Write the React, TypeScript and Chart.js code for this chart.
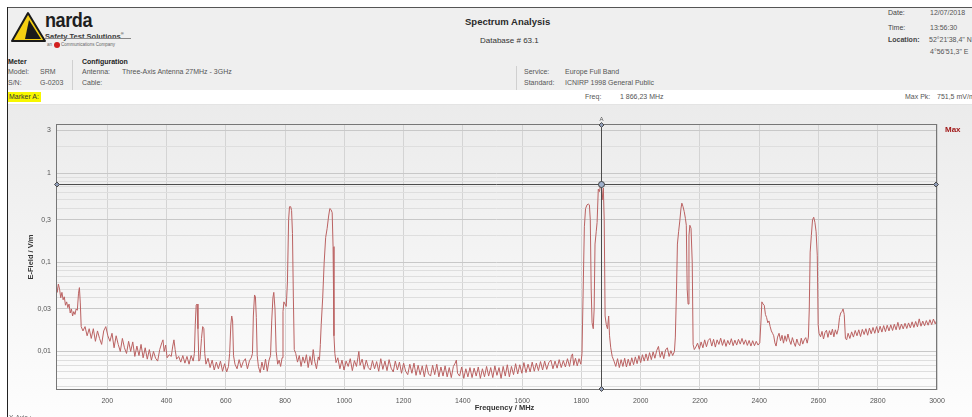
import React, { useEffect, useRef } from "react";
import { Chart, registerables } from "chart.js";
Chart.register(...registerables);

const FONT = "'Liberation Sans', Arial, sans-serif";

// Frequency axis (MHz)
const frequencies = [
  27, 31, 35, 39, 43, 47, 51, 55, 59, 63,
  67, 71, 75, 79, 83, 87, 91, 95, 99, 103,
  106, 109, 112, 118, 125, 132, 139, 146, 153, 160,
  167, 174, 181, 188, 195, 202, 209, 216, 223, 230,
  237, 244, 251, 258, 265, 272, 279, 286, 293, 300,
  307, 314, 321, 328, 335, 342, 349, 356, 363, 370,
  377, 384, 388, 392, 397, 402, 409, 416, 421, 425,
  429, 434, 441, 448, 455, 462, 469, 476, 483, 490,
  494, 497, 500, 503, 506, 509, 513, 518, 522, 526,
  529, 533, 540, 547, 554, 561, 568, 575, 582, 589,
  596, 603, 609, 613, 617, 620, 623, 626, 631, 638,
  645, 652, 659, 666, 673, 680, 686, 690, 693, 697,
  700, 703, 706, 710, 716, 722, 728, 734, 740, 746,
  751, 755, 759, 762, 766, 770, 775, 780, 785, 790,
  793, 796, 800, 804, 808, 812, 815, 819, 822, 825,
  828, 831, 836, 842, 848, 854, 860, 866, 872, 878,
  884, 890, 895, 900, 906, 912, 916, 919, 922, 927,
  932, 937, 942, 947, 951, 955, 959, 962, 965, 968,
  972, 978, 985, 992, 999, 1006, 1013, 1020, 1027, 1034,
  1041, 1046, 1049, 1053, 1060, 1067, 1074, 1081, 1088, 1095,
  1102, 1109, 1116, 1123, 1130, 1137, 1144, 1151, 1158, 1165,
  1172, 1179, 1186, 1193, 1200, 1207, 1214, 1221, 1228, 1235,
  1242, 1249, 1256, 1263, 1270, 1277, 1284, 1291, 1298, 1305,
  1312, 1319, 1326, 1333, 1340, 1347, 1354, 1361, 1368, 1374,
  1378, 1382, 1389, 1396, 1403, 1410, 1417, 1424, 1431, 1438,
  1445, 1452, 1459, 1466, 1473, 1480, 1487, 1494, 1501, 1508,
  1515, 1522, 1529, 1536, 1543, 1550, 1557, 1564, 1571, 1578,
  1585, 1592, 1599, 1606, 1613, 1620, 1627, 1634, 1641, 1648,
  1655, 1662, 1669, 1676, 1683, 1690, 1697, 1704, 1711, 1718,
  1725, 1732, 1739, 1746, 1753, 1760, 1766, 1770, 1774, 1780,
  1786, 1792, 1798, 1802, 1806, 1810, 1814, 1819, 1823, 1827,
  1830, 1833, 1836, 1840, 1843, 1846, 1850, 1853, 1857, 1861,
  1864, 1867, 1870, 1874, 1877, 1880, 1884, 1888, 1892, 1895,
  1899, 1904, 1910, 1916, 1922, 1928, 1934, 1940, 1946, 1952,
  1958, 1964, 1970, 1976, 1982, 1988, 1994, 2000, 2006, 2012,
  2018, 2024, 2030, 2036, 2042, 2048, 2054, 2060, 2066, 2072,
  2078, 2084, 2090, 2096, 2102, 2108, 2114, 2117, 2121, 2124,
  2128, 2132, 2136, 2139, 2143, 2147, 2151, 2154, 2157, 2160,
  2163, 2166, 2170, 2174, 2177, 2181, 2186, 2192, 2198, 2204,
  2210, 2216, 2222, 2228, 2234, 2240, 2246, 2252, 2258, 2264,
  2270, 2276, 2282, 2288, 2294, 2300, 2306, 2312, 2318, 2324,
  2330, 2336, 2342, 2348, 2354, 2360, 2366, 2372, 2378, 2384,
  2390, 2396, 2402, 2406, 2409, 2413, 2417, 2421, 2425, 2429,
  2433, 2437, 2441, 2445, 2449, 2453, 2457, 2462, 2467, 2472,
  2477, 2482, 2487, 2492, 2497, 2502, 2507, 2512, 2517, 2522,
  2527, 2532, 2537, 2542, 2547, 2552, 2557, 2562, 2566, 2569,
  2572, 2576, 2580, 2584, 2588, 2592, 2596, 2599, 2602, 2607,
  2612, 2617, 2622, 2627, 2632, 2637, 2642, 2647, 2652, 2657,
  2662, 2667, 2671, 2675, 2679, 2683, 2687, 2691, 2695, 2700,
  2706, 2712, 2718, 2724, 2730, 2736, 2742, 2748, 2754, 2760,
  2766, 2772, 2778, 2784, 2790, 2796, 2802, 2808, 2814, 2820,
  2826, 2832, 2838, 2844, 2850, 2856, 2862, 2868, 2874, 2880,
  2886, 2892, 2898, 2904, 2910, 2916, 2922, 2928, 2934, 2940,
  2946, 2952, 2958, 2964, 2970, 2976, 2982, 2988, 2994, 3000,
];

// Max-hold E-field (V/m)
const eField = [
  0.060, 0.046, 0.057, 0.050, 0.040, 0.046, 0.038, 0.041, 0.033, 0.036,
  0.031, 0.034, 0.027, 0.030, 0.025, 0.028, 0.026, 0.030, 0.029, 0.045,
  0.052, 0.035, 0.019, 0.017, 0.019, 0.015, 0.018, 0.014, 0.018, 0.013,
  0.017, 0.014, 0.012, 0.017, 0.019, 0.015, 0.013, 0.016, 0.011, 0.015,
  0.012, 0.010, 0.014, 0.011, 0.0095, 0.013, 0.010, 0.0128, 0.0088, 0.0115,
  0.0090, 0.0120, 0.0085, 0.0110, 0.0082, 0.0105, 0.0080, 0.0100, 0.0084, 0.0078,
  0.0105, 0.0125, 0.0135, 0.0100, 0.0118, 0.0085, 0.0092, 0.0088, 0.0115, 0.0135,
  0.0105, 0.0082, 0.0088, 0.0076, 0.0090, 0.0074, 0.0088, 0.0072, 0.0090, 0.0078,
  0.0095, 0.020, 0.033, 0.034, 0.018, 0.0078, 0.0082, 0.014, 0.019, 0.018,
  0.0095, 0.0072, 0.0084, 0.0066, 0.0080, 0.0062, 0.0076, 0.0064, 0.0078, 0.0060,
  0.0073, 0.0059, 0.0068, 0.0095, 0.020, 0.025, 0.022, 0.0090, 0.0072, 0.0064,
  0.0081, 0.0066, 0.0077, 0.0083, 0.0064, 0.0079, 0.0085, 0.0095, 0.025, 0.043,
  0.041, 0.024, 0.0090, 0.0068, 0.0058, 0.0076, 0.0062, 0.0082, 0.0060, 0.0080,
  0.0090, 0.022, 0.040, 0.046, 0.030, 0.010, 0.0072, 0.0080, 0.0068, 0.0085,
  0.028, 0.036, 0.034, 0.032, 0.060, 0.30, 0.42, 0.42, 0.38, 0.21,
  0.040, 0.0105, 0.0095, 0.0076, 0.0090, 0.0068, 0.0087, 0.0074, 0.0092, 0.0066,
  0.0088, 0.0071, 0.0105, 0.0078, 0.0064, 0.0087, 0.0080, 0.012, 0.020, 0.040,
  0.10, 0.19, 0.24, 0.33, 0.40, 0.39, 0.36, 0.15, 0.015, 0.0095,
  0.0075, 0.0085, 0.0064, 0.0080, 0.0062, 0.0078, 0.0068, 0.0083, 0.0061, 0.0079,
  0.0068, 0.0086, 0.0100, 0.0070, 0.0082, 0.0063, 0.0080, 0.0066, 0.0062, 0.0079,
  0.0064, 0.0077, 0.0060, 0.0083, 0.0063, 0.0078, 0.0061, 0.0081, 0.0065, 0.0059,
  0.0078, 0.0062, 0.0076, 0.0057, 0.0074, 0.0060, 0.0055, 0.0072, 0.0057, 0.0074,
  0.0054, 0.0070, 0.0055, 0.0069, 0.0052, 0.0071, 0.0056, 0.0053, 0.0070, 0.0055,
  0.0072, 0.0052, 0.0067, 0.0053, 0.0069, 0.0052, 0.0066, 0.0051, 0.0068, 0.0074,
  0.0080, 0.0057, 0.0053, 0.0067, 0.0050, 0.0064, 0.0052, 0.0066, 0.0051, 0.0065,
  0.0053, 0.0067, 0.0050, 0.0064, 0.0052, 0.0068, 0.0053, 0.0066, 0.0051, 0.0069,
  0.0054, 0.0066, 0.0050, 0.0068, 0.0053, 0.0071, 0.0052, 0.0068, 0.0055, 0.0073,
  0.0056, 0.0071, 0.0057, 0.0075, 0.0058, 0.0072, 0.0059, 0.0076, 0.0060, 0.0074,
  0.0061, 0.0077, 0.0062, 0.0078, 0.0063, 0.0075, 0.0080, 0.0064, 0.0078, 0.0065,
  0.0081, 0.0066, 0.0079, 0.0067, 0.0083, 0.0068, 0.0088, 0.0094, 0.0070, 0.0084,
  0.0069, 0.0083, 0.0072, 0.0095, 0.05, 0.25, 0.40, 0.44, 0.45, 0.44,
  0.30, 0.05, 0.021, 0.018, 0.030, 0.16, 0.22, 0.28, 0.66, 0.62,
  0.72, 0.75, 0.50, 0.68, 0.30, 0.025, 0.020, 0.018, 0.025, 0.015,
  0.011, 0.0088, 0.0078, 0.0068, 0.0083, 0.0066, 0.0081, 0.0068, 0.0084, 0.0067,
  0.0082, 0.0069, 0.0085, 0.0071, 0.0087, 0.0073, 0.0090, 0.0075, 0.0092, 0.0078,
  0.0094, 0.0079, 0.0097, 0.0081, 0.0099, 0.0084, 0.0102, 0.0114, 0.0086, 0.0100,
  0.0083, 0.0104, 0.0110, 0.0088, 0.0102, 0.0090, 0.0100, 0.0145, 0.05, 0.16,
  0.22, 0.29, 0.40, 0.46, 0.42, 0.37, 0.31, 0.26, 0.05, 0.034,
  0.20, 0.26, 0.24, 0.10, 0.012, 0.0105, 0.0112, 0.0124, 0.0106, 0.0128,
  0.0110, 0.0135, 0.0113, 0.0133, 0.0140, 0.0115, 0.0137, 0.0112, 0.0135, 0.0120,
  0.0141, 0.0117, 0.0136, 0.0114, 0.0133, 0.0119, 0.0139, 0.0116, 0.0134, 0.0118,
  0.0137, 0.0121, 0.0140, 0.0120, 0.0135, 0.0117, 0.0133, 0.0115, 0.0132, 0.0116,
  0.0130, 0.0118, 0.0125, 0.022, 0.036, 0.034, 0.033, 0.026, 0.024, 0.021,
  0.022, 0.019, 0.017, 0.016, 0.015, 0.0125, 0.0115, 0.0145, 0.016, 0.0132,
  0.0152, 0.0124, 0.0150, 0.0130, 0.0157, 0.0134, 0.0120, 0.0143, 0.0126, 0.0114,
  0.0138, 0.0122, 0.0116, 0.0141, 0.0121, 0.0135, 0.0143, 0.0124, 0.0145, 0.030,
  0.13, 0.20, 0.30, 0.32, 0.28, 0.22, 0.12, 0.020, 0.016, 0.0146,
  0.0168, 0.0138, 0.0163, 0.0173, 0.0144, 0.0171, 0.0153, 0.0178, 0.0146, 0.0175,
  0.0156, 0.0180, 0.024, 0.027, 0.028, 0.030, 0.026, 0.014, 0.0135, 0.0160,
  0.0140, 0.0166, 0.0145, 0.0172, 0.0150, 0.0175, 0.0147, 0.0177, 0.0155, 0.0180,
  0.0152, 0.0183, 0.0158, 0.0186, 0.0160, 0.0190, 0.0162, 0.0192, 0.0165, 0.0195,
  0.0167, 0.0197, 0.0170, 0.0199, 0.0172, 0.0202, 0.0175, 0.0212, 0.0176, 0.0203,
  0.0179, 0.0207, 0.0181, 0.0209, 0.0184, 0.0215, 0.0186, 0.0217, 0.0189, 0.0232,
  0.0192, 0.0219, 0.0194, 0.0222, 0.0197, 0.0227, 0.0200, 0.0231, 0.0204, 0.0228,
];

const xTickValues = [200, 400, 600, 800, 1000, 1200, 1400, 1600, 1800, 2000, 2200, 2400, 2600, 2800, 3000];
const yGridValues = [
  0.004, 0.005, 0.006, 0.007, 0.008, 0.009,
  0.01, 0.02, 0.03, 0.04, 0.05, 0.06, 0.07, 0.08, 0.09,
  0.1, 0.2, 0.3, 0.4, 0.5, 0.6, 0.7, 0.8, 0.9,
  1, 2, 3,
];
const yLabelValues = [0.01, 0.03, 0.1, 0.3, 1, 3];
const yLabelTexts = ["0,01", "0,03", "0,1", "0,3", "1", "3"];

const xMin = 27;
const xMax = 3000;
const yMin = 0.0037;
const yMax = 3.55;
const markerFreq = 1866.23;
const markerValue = 0.7515;

const labelIndex = (v: number) => yLabelValues.findIndex((t) => Math.abs(v - t) / t < 1e-6);

function SpectrumChart() {
  const ref = useRef<HTMLCanvasElement | null>(null);
  useEffect(() => {
    if (!ref.current) return;
    const bgPlugin = {
      id: "bg",
      beforeDraw(chart: any) {
        const { ctx, width, height } = chart;
        const g = ctx.createLinearGradient(0, 0, 0, height);
        g.addColorStop(0, "#ebebeb");
        g.addColorStop(1, "#fdfdfd");
        ctx.save();
        ctx.fillStyle = g;
        ctx.fillRect(0, 0, width, height);
        ctx.restore();
      },
    };
    const overlayPlugin = {
      id: "overlay",
      afterDatasetsDraw(chart: any) {
        const { ctx, chartArea: a } = chart;
        const xs = chart.scales.x;
        const ys = chart.scales.y;
        ctx.save();
        ctx.strokeStyle = "#777";
        ctx.lineWidth = 1;
        ctx.strokeRect(Math.round(a.left) + 0.5, Math.round(a.top) + 0.5, Math.round(a.right - a.left) - 1, Math.round(a.bottom - a.top) - 1);
        const mx = Math.round(xs.getPixelForValue(markerFreq)) + 0.5;
        const my = Math.round(ys.getPixelForValue(markerValue)) + 0.5;
        ctx.strokeStyle = "#4d4d4d";
        ctx.beginPath();
        ctx.moveTo(mx, a.top);
        ctx.lineTo(mx, a.bottom);
        ctx.moveTo(a.left, my);
        ctx.lineTo(a.right, my);
        ctx.stroke();
        const diamond = (x: number, y: number, r: number, fill: string) => {
          ctx.beginPath();
          ctx.moveTo(x, y - r);
          ctx.lineTo(x + r, y);
          ctx.lineTo(x, y + r);
          ctx.lineTo(x - r, y);
          ctx.closePath();
          ctx.fillStyle = fill;
          ctx.fill();
          ctx.strokeStyle = "#4d4d4d";
          ctx.stroke();
        };
        diamond(mx, a.top + 1, 2.5, "#8e9bb5");
        diamond(mx, a.bottom - 1, 2.5, "#8e9bb5");
        diamond(a.left + 1, my, 2.5, "#8e9bb5");
        diamond(a.right - 1, my, 2.5, "#8e9bb5");
        ctx.beginPath();
        ctx.arc(mx, my, 3, 0, Math.PI * 2);
        ctx.fillStyle = "#9fb0cc";
        ctx.fill();
        ctx.strokeStyle = "#444";
        ctx.stroke();
        ctx.fillStyle = "#555";
        ctx.font = `6px ${FONT}`;
        ctx.textAlign = "center";
        ctx.textBaseline = "bottom";
        ctx.fillText("A", mx, a.top - 2);
        ctx.fillStyle = "#a11a1a";
        ctx.font = `bold 8px ${FONT}`;
        ctx.textAlign = "left";
        ctx.textBaseline = "middle";
        ctx.fillText("Max", a.right + 8, a.top + 6);
        ctx.fillStyle = "#333";
        ctx.font = `bold 7.5px ${FONT}`;
        ctx.textAlign = "center";
        ctx.fillText("Frequency / MHz", (a.left + a.right) / 2 + 8, a.bottom + 18);
        ctx.save();
        ctx.translate(23, (a.top + a.bottom) / 2);
        ctx.rotate(-Math.PI / 2);
        ctx.fillText("E-Field / V/m", 0, 0);
        ctx.restore();
        ctx.fillStyle = "#666";
        ctx.font = `6.5px ${FONT}`;
        ctx.textAlign = "left";
        ctx.textBaseline = "top";
        ctx.fillText("X-Axis :", 1, a.bottom + 25);
        ctx.restore();
      },
    };
    const chart = new Chart(ref.current, {
      type: "line",
      data: {
        datasets: [
          {
            data: frequencies.map((f, i) => ({ x: f, y: eField[i] })),
            borderColor: "#bb6262",
            borderWidth: 1,
            pointRadius: 0,
            tension: 0,
            fill: false,
          },
        ],
      },
      options: {
        animation: false,
        responsive: false,
        maintainAspectRatio: false,
        layout: { padding: { left: 8, right: 35, top: 19, bottom: 5 } },
        plugins: { legend: { display: false }, tooltip: { enabled: false } },
        scales: {
          x: {
            type: "linear",
            min: xMin,
            max: xMax,
            afterBuildTicks: (s: any) => {
              s.ticks = xTickValues.map((v) => ({ value: v }));
            },
            afterFit: (s: any) => {
              s.height = 22;
            },
            ticks: {
              padding: 7,
              color: "#555",
              font: { size: 7, family: FONT },
              maxRotation: 0,
              autoSkip: false,
              callback: (v: any) => String(v),
            },
            grid: { color: "#d4d4d4", drawTicks: false },
            border: { display: false },
          },
          y: {
            type: "logarithmic",
            min: yMin,
            max: yMax,
            afterBuildTicks: (s: any) => {
              s.ticks = yGridValues.map((v) => ({ value: v }));
            },
            afterFit: (s: any) => {
              s.width = 40;
            },
            ticks: {
              padding: 5,
              color: "#555",
              font: { size: 7, family: FONT },
              autoSkip: false,
              callback: (v: any) => {
                const i = labelIndex(Number(v));
                return i >= 0 ? yLabelTexts[i] : "";
              },
            },
            grid: {
              color: (c: any) => (c.tick && labelIndex(c.tick.value) >= 0 ? "#c8c8c8" : "#dedede"),
              drawTicks: false,
            },
            border: { display: false },
          },
        },
      },
      plugins: [bgPlugin, overlayPlugin],
    } as any);
    return () => chart.destroy();
  }, []);
  return <canvas ref={ref} width={964} height={312} style={{ position: "absolute", left: 8, top: 105, width: 964, height: 312 }} />;
}

function T(props: { x: number; y: number; size?: number; bold?: boolean; color?: string; children: React.ReactNode; style?: React.CSSProperties }) {
  const size = props.size ?? 7;
  return (
    <div
      style={{
        position: "absolute",
        left: props.x,
        top: props.y - size * 0.6,
        fontSize: size,
        lineHeight: `${size * 1.2}px`,
        fontWeight: props.bold ? "bold" : "normal",
        color: props.color ?? "#555",
        whiteSpace: "nowrap",
        fontFamily: FONT,
        ...props.style,
      }}
    >
      {props.children}
    </div>
  );
}

export default function App() {
  return (
    <div style={{ position: "absolute", left: 0, top: 0, width: 972, height: 417, overflow: "hidden", background: "#fff", fontFamily: FONT }}>
      <div style={{ position: "absolute", left: 8, top: 8, width: 964, height: 82, background: "#efefef" }} />
      <div style={{ position: "absolute", left: 8, top: 104, width: 964, height: 1, background: "#e4e4e4" }} />
      <SpectrumChart />
      <div style={{ position: "absolute", left: 7, top: 7, width: 965, height: 1, background: "#555" }} />
      <div style={{ position: "absolute", left: 7, top: 7, width: 1, height: 410, background: "#222" }} />
      <svg style={{ position: "absolute", left: 10, top: 11 }} width={38} height={32} viewBox="0 0 38 32">
        <polygon points="2,30 18,2 35,30" fill="#f5cf12" stroke="#1a1a1a" strokeWidth={2} strokeLinejoin="round" />
        <polygon points="19,9 31,28 15,28" fill="#1a1a1a" />
      </svg>
      <div style={{ position: "absolute", left: 45, top: 9, fontSize: 21, lineHeight: "22px", fontWeight: "bold", color: "#1e1e1e", fontFamily: FONT, transform: "scaleX(0.86)", transformOrigin: "left top", letterSpacing: -0.5 }}>
        narda
      </div>
      <T x={45} y={33} size={7.5} bold color="#3a3a3a">
        Safety Test Solutions<sup style={{ fontSize: 4 }}>®</sup>
      </T>
      <div style={{ position: "absolute", left: 45, top: 37.5, width: 86, height: 1, background: "#888" }} />
      <div style={{ position: "absolute", left: 47, top: 42, fontSize: 4.5, lineHeight: "6px", color: "#666", fontFamily: FONT, whiteSpace: "nowrap", display: "flex", alignItems: "center" }}>
        <span>an</span>
        <span style={{ display: "inline-block", width: 6, height: 6, borderRadius: 3, background: "#d21f1f", margin: "0 1px 0 2px" }} />
        <span>Communications Company</span>
      </div>
      <T x={8} y={62} bold color="#222">Meter</T>
      <T x={8} y={72}>Model:</T>
      <T x={40} y={72}>SRM</T>
      <T x={8} y={83}>S/N:</T>
      <T x={40} y={83}>G-0203</T>
      <div style={{ position: "absolute", left: 72, top: 60, width: 1, height: 30, background: "#d0d0d0" }} />
      <T x={82} y={62} bold color="#222">Configuration</T>
      <T x={82} y={72}>Antenna:</T>
      <T x={122} y={72}>Three-Axis Antenna 27MHz - 3GHz</T>
      <T x={82} y={83}>Cable:</T>
      <T x={465} y={22} size={9.5} bold color="#2a2a2a">Spectrum Analysis</T>
      <T x={480} y={41} size={8} color="#333">Database # 63.1</T>
      <div style={{ position: "absolute", left: 516, top: 66, width: 1, height: 24, background: "#d0d0d0" }} />
      <T x={524} y={72}>Service:</T>
      <T x={565} y={72}>Europe Full Band</T>
      <T x={524} y={83}>Standard:</T>
      <T x={565} y={83}>ICNIRP 1998 General Public</T>
      <T x={888} y={13} color="#444">Date:</T>
      <T x={930} y={13}>12/07/2018</T>
      <T x={888} y={28} color="#444">Time:</T>
      <T x={930} y={28}>13:56:30</T>
      <T x={888} y={40} bold color="#444">Location:</T>
      <T x={929} y={40}>52°21'38,4" N</T>
      <T x={930} y={52}>4°56'51,3" E</T>
      <div style={{ position: "absolute", left: 8, top: 92, width: 33, height: 10, background: "#f7f700" }} />
      <T x={9} y={97} color="#333">Marker A:</T>
      <T x={585} y={97}>Freq:</T>
      <T x={620} y={97}>1 866,23 MHz</T>
      <T x={905} y={97}>Max Pk:</T>
      <T x={937} y={97}>751,5 mV/m</T>
    </div>
  );
}
